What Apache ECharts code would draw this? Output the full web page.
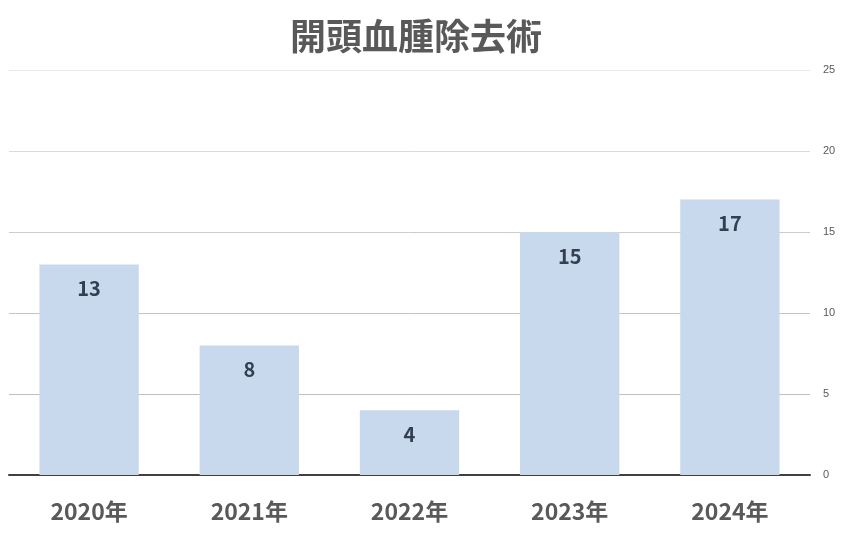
<!DOCTYPE html>
<html>
<head>
<meta charset="utf-8">
<script src="https://cdn.jsdelivr.net/npm/echarts@6/dist/echarts.min.js"></script>
<style>html,body{margin:0;padding:0;background:#fff;}#c{width:851px;height:537px;}</style>
</head>
<body>
<div id="c"></div>
<script>
const titleText = '開頭血腫除去術';
const categories = ['2020年', '2021年', '2022年', '2023年', '2024年'];
const values = [13, 8, 4, 15, 17];
const yTicks = [0, 5, 10, 15, 20, 25];

const chart = echarts.init(document.getElementById('c'), null, {renderer: 'canvas'});
chart.setOption({
  backgroundColor: '#ffffff',
  animation: false,
  title: {
    text: titleText,
    left: 411,
    textAlign: 'center',
    top: 13,
    textStyle: {fontFamily: 'Noto Sans CJK JP', fontSize: 36, fontWeight: 'bold', color: '#595959'}
  },
  grid: {left: 9, right: 41, top: 70, bottom: 62, containLabel: false},
  xAxis: {
    type: 'category',
    data: categories,
    axisLine: {show: true, lineStyle: {color: '#404040', width: 2}},
    axisTick: {show: false},
    axisLabel: {margin: 25, fontFamily: 'Noto Sans CJK JP', fontSize: 23, fontWeight: 'bold', color: '#595959'}
  },
  yAxis: {
    type: 'value',
    position: 'right',
    min: yTicks[0],
    max: yTicks[yTicks.length - 1],
    interval: 5,
    axisLine: {show: false},
    axisTick: {show: false},
    axisLabel: {margin: 13, fontFamily: 'Liberation Sans', fontSize: 11, color: '#595959'},
    splitLine: {show: true, lineStyle: {color: ['#404040', '#c0c0c0', '#c4c4c4', '#cccccc', '#dadada', '#e8e8e8'], width: 1}}
  },
  series: [{
    type: 'bar',
    data: values,
    barCategoryGap: '38%',
    itemStyle: {color: '#c8d9ee'},
    label: {
      show: true,
      position: 'insideTop',
      distance: 14,
      fontFamily: 'Noto Sans CJK JP',
      fontSize: 20,
      fontWeight: 'bold',
      color: '#333f50'
    }
  }]
});
</script>
</body>
</html>
